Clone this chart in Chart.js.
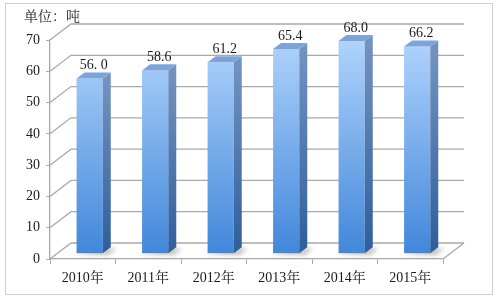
<!DOCTYPE html>
<html>
<head>
<meta charset="utf-8">
<script src="https://cdn.jsdelivr.net/npm/chart.js@4/dist/chart.umd.min.js"></script>
<style>
  html, body { margin: 0; padding: 0; background: #fff; }
</style>
</head>
<body>
<canvas id="tonChart" width="497" height="299"></canvas>
<script>
'use strict'

// data
const years = ['2010年', '2011年', '2012年', '2013年', '2014年', '2015年']
const tonnes = [56.0, 58.6, 61.2, 65.4, 68.0, 66.2]
const valueLabels = ['56. 0', '58.6', '61.2', '65.4', '68.0', '66.2']
const unitText = '单位：吨'

const serif = "'Liberation Serif', 'Noto Serif CJK SC', 'Noto Sans CJK SC', serif"

// fake 3d: how far the back wall sits from the front plane
const DX = 21, DY = -16
const FRONT = 0.33, BACK = 0.71

const fake3d = {
    id: 'fake3d',
    beforeDraw(chart) {
        const ctx = chart.ctx
        ctx.save()
        ctx.strokeStyle = '#cfcfcf'
        ctx.lineWidth = 1
        ctx.strokeRect(5.5, 3.5, 487, 291)
        ctx.restore()
    },
    beforeDatasetsDraw(chart) {
        const {ctx, chartArea: a, scales: {y}} = chart
        ctx.save()
        ctx.strokeStyle = '#a9a9a9'
        ctx.lineWidth = 1.3
        ctx.beginPath()
        y.ticks.forEach(t => {
            const py = y.getPixelForValue(t.value)
            ctx.moveTo(a.left, py)
            ctx.lineTo(a.left + DX, py + DY)
            ctx.lineTo(a.right + DX, py + DY)
        })
        // floor right edge
        ctx.moveTo(a.right, a.bottom)
        ctx.lineTo(a.right + DX, a.bottom + DY)
        ctx.stroke()

        // soft shadows on the floor
        const meta = chart.getDatasetMeta(0)
        ctx.fillStyle = 'rgba(90,90,90,0.35)'
        ctx.filter = 'blur(2px)'
        meta.data.forEach(bar => {
            const {x, base, width} = bar.getProps(['x', 'base', 'width'], true)
            const l = x - width / 2 + DX * FRONT
            const b = base + DY * FRONT
            ctx.beginPath()
            ctx.moveTo(l - 2, b + 1)
            ctx.lineTo(l + width + 6, b + 2)
            ctx.lineTo(l + width + 14, b - 5)
            ctx.lineTo(l + width, b - 5)
            ctx.closePath()
            ctx.fill()
        })
        ctx.filter = 'none'
        ctx.restore()

        ctx.save()
        ctx.translate(DX * FRONT, DY * FRONT)
    },
    afterDatasetsDraw(chart) {
        const {ctx, chartArea: a} = chart
        const meta = chart.getDatasetMeta(0)
        const dx = DX * (BACK - FRONT), dy = DY * (BACK - FRONT)
        meta.data.forEach(bar => {
            const {x, y, base, width} = bar.getProps(['x', 'y', 'base', 'width'], true)
            const l = x - width / 2, r = x + width / 2
            // side face
            const g = ctx.createLinearGradient(0, y, 0, base)
            g.addColorStop(0, '#7393bf')
            g.addColorStop(1, '#2e5e9c')
            ctx.fillStyle = g
            ctx.beginPath()
            ctx.moveTo(r, y)
            ctx.lineTo(r + dx, y + dy)
            ctx.lineTo(r + dx, base + dy)
            ctx.lineTo(r, base)
            ctx.closePath()
            ctx.fill()
            // top face
            ctx.fillStyle = '#7fa3d6'
            ctx.beginPath()
            ctx.moveTo(l, y)
            ctx.lineTo(r, y)
            ctx.lineTo(r + dx, y + dy)
            ctx.lineTo(l + dx, y + dy)
            ctx.closePath()
            ctx.fill()
        })
        ctx.restore()

        // value labels and unit
        ctx.save()
        ctx.fillStyle = '#1a1a1a'
        ctx.font = '14px ' + serif
        ctx.textAlign = 'center'
        ctx.textBaseline = 'middle'
        meta.data.forEach((bar, i) => {
            const {x, y} = bar.getProps(['x', 'y'], true)
            ctx.fillText(valueLabels[i], x + DX * FRONT + dx / 2, y + DY * FRONT - 13)
        })
        ctx.textAlign = 'left'
        ctx.fillText(unitText, 24, 17)
        ctx.restore()
    }
}

const ctx = document.getElementById('tonChart')
// eslint-disable-next-line no-unused-vars
const tonChart = new Chart(ctx, {
    type: 'bar',
    data: {
        labels: years,
        datasets: [{
            data: tonnes,
            categoryPercentage: 1,
            barPercentage: 0.4,
            borderWidth: 0,
            backgroundColor: context => {
                const area = context.chart.chartArea
                if (!area) return '#7fb2ee'
                const g = context.chart.ctx.createLinearGradient(0, area.top, 0, area.bottom)
                g.addColorStop(0, '#b2d5fc')
                g.addColorStop(1, '#4287da')
                return g
            }
        }]
    },
    options: {
        responsive: false,
        animation: false,
        devicePixelRatio: 1,
        layout: {
            padding: {left: 10, right: 54, top: 40, bottom: 0}
        },
        plugins: {
            legend: {display: false},
            tooltip: {enabled: false}
        },
        scales: {
            x: {
                afterFit: s => { s.height = 40 },
                grid: {
                    offset: true,
                    drawOnChartArea: false,
                    drawTicks: true,
                    tickLength: 5,
                    color: '#a9a9a9'
                },
                border: {display: true, color: '#a9a9a9', width: 1.3},
                ticks: {
                    color: '#1a1a1a',
                    font: {family: serif, size: 14},
                    padding: 6,
                    maxRotation: 0
                }
            },
            y: {
                min: 0,
                max: 70,
                afterFit: s => { s.width = 40 },
                grid: {
                    drawOnChartArea: false,
                    drawTicks: true,
                    tickLength: 4,
                    color: '#a9a9a9'
                },
                border: {display: true, color: '#a9a9a9', width: 1.3},
                ticks: {
                    stepSize: 10,
                    color: '#1a1a1a',
                    font: {family: serif, size: 14},
                    padding: 6
                }
            }
        }
    },
    plugins: [fake3d]
})
</script>
</body>
</html>
